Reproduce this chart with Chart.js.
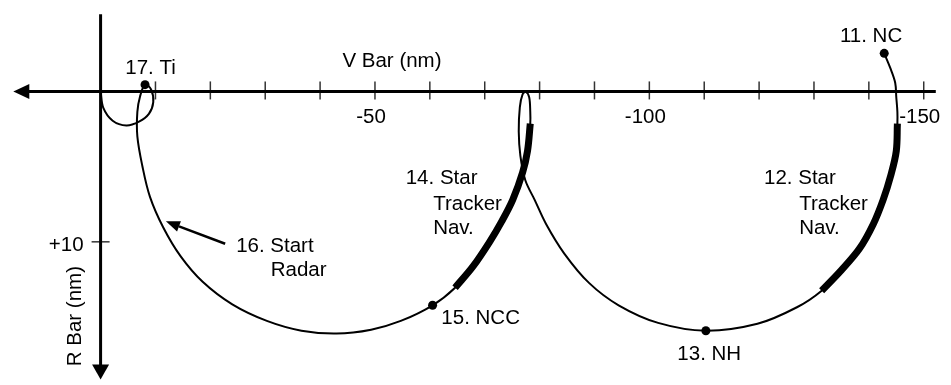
<!DOCTYPE html>
<html><head><meta charset="utf-8">
<script src="https://cdn.jsdelivr.net/npm/chart.js@4"></script>
<style>html,body{margin:0;padding:0;background:#fff;}canvas{display:block;}</style>
</head><body>
<canvas id="c" width="951" height="385"></canvas>
<script>
// Trajectory, V Bar (nm) and R Bar (nm)
const pathV = [-142.8,-143.9,-144.8,-145.0,-145.2,-145.2,-145.0,-144.0,-142.6,-140.8,-138.3,-135.0,-131.4,-126.9,-119.7,-110.3,-101.6,-94.4,-89.0,-84.5,-81.2,-79.1,-77.4,-76.5,-76.2,-76.4,-76.9,-77.5,-78.1,-78.3,-78.3,-77.8,-76.9,-75.1,-73.1,-70.9,-67.9,-64.6,-60.5,-54.7,-49.3,-43.0,-36.6,-30.3,-24.0,-18.6,-14.6,-11.4,-9.0,-7.6,-6.7,-6.7,-7.2,-8.1,-9.2,-9.6,-8.8,-7.0,-4.7,-2.2,-0.5,0];
const pathR = [-2.53,-1.56,-0.58,0.39,1.36,2.14,3.96,5.58,7.21,8.83,10.45,11.88,13.25,14.35,15.45,15.91,15.39,14.22,12.73,10.78,8.83,7.21,5.91,4.29,2.66,1.04,0.19,0.03,0.39,1.36,2.14,3.96,5.39,7.21,8.64,10.0,11.62,13.05,14.22,15.26,15.84,16.10,15.91,15.26,14.16,12.66,10.97,9.03,7.01,4.94,2.99,1.36,0.32,-0.45,-0.13,0.71,1.49,2.01,2.27,1.95,1.10,0];
// Star tracker navigation spans (index ranges into the path)
const trackerSpans = [[5,12],[30,37]];
// Events
const eventNames = ['11. NC','13. NH','15. NCC','17. Ti'];
const eventIdx = [0,15,38,53];
// Axis ticks
const vTicks = [-10,-20,-30,-40,-50,-60,-70,-80,-90,-100,-110,-120,-130,-140,-150];
const vLabelValues = [-50,-100,-150];
const vLabels = ['-50','-100','-150'];
const rTicks = [10];
const rLabels = ['+10'];
const vTitle = 'V Bar (nm)';
const rTitle = 'R Bar (nm)';
// Axis extents (nm)
const vAxisExtent = [15.9,-152.2];
const rAxisExtent = [-5.13,19.16];
// Annotations anchored in data units
const notes = [
  {lines:['11. NC'], v:-140.4, r:-3.31, align:'center'},
  {lines:['17. Ti'], v:-9.1, r:-1.17, align:'center'},
  {lines:['14. Star'], v:-55.6, r:6.17, align:'left'},
  {lines:['Tracker','Nav.'], v:-60.6, r:7.86, align:'left'},
  {lines:['12. Star'], v:-120.9, r:6.17, align:'left'},
  {lines:['Tracker','Nav.'], v:-127.3, r:7.86, align:'left'},
  {lines:['15. NCC'], v:-62.1, r:15.45, align:'left'},
  {lines:['13. NH'], v:-105.1, r:17.84, align:'left'},
  {lines:['16. Start'], v:-24.7, r:10.65, align:'left'},
  {lines:['Radar'], v:-31.0, r:12.27, align:'left'}
];
const radarArrow = {from:[-22.7,10.13], to:[-11.9,8.64]};

const FONT = '20.5px "Liberation Sans", Arial, sans-serif';
const pts = pathV.map((v,i)=>({x:v,y:pathR[i]}));
const trackerSets = trackerSpans.map(([a,b])=>({
  data: pts.slice(a,b+1), showLine:true, borderColor:'#000', borderWidth:7,
  pointRadius:0, tension:0.35, borderCapStyle:'butt', fill:false
}));

const axesPlugin = {
  id:'axes',
  beforeDatasetsDraw(chart){
    const {ctx, scales:{x,y}} = chart;
    const X=v=>x.getPixelForValue(v), Y=r=>y.getPixelForValue(r);
    const x0=X(0), y0=Y(0);
    ctx.save();
    ctx.strokeStyle='#000'; ctx.fillStyle='#000';
    // ticks
    ctx.lineWidth=1.5; ctx.strokeStyle='#333';
    vTicks.forEach(t=>{const px=X(t); ctx.beginPath(); ctx.moveTo(px,y0-10); ctx.lineTo(px,y0+8); ctx.stroke();});
    rTicks.forEach(t=>{const py=Y(t); ctx.beginPath(); ctx.moveTo(x0-9,py); ctx.lineTo(x0+9,py); ctx.stroke();});
    // axis lines
    ctx.strokeStyle='#000'; ctx.lineWidth=3;
    const hl=X(vAxisExtent[0]), hr=X(vAxisExtent[1]);
    ctx.beginPath(); ctx.moveTo(hl+12,y0); ctx.lineTo(hr,y0); ctx.stroke();
    ctx.beginPath(); ctx.moveTo(hl,y0); ctx.lineTo(hl+16,y0-7.5); ctx.lineTo(hl+16,y0+7.5); ctx.closePath(); ctx.fill();
    const vt=Y(rAxisExtent[0]), vb=Y(rAxisExtent[1]);
    ctx.beginPath(); ctx.moveTo(x0,vt); ctx.lineTo(x0,vb-12); ctx.stroke();
    ctx.beginPath(); ctx.moveTo(x0,vb); ctx.lineTo(x0-8.5,vb-15); ctx.lineTo(x0+8.5,vb-15); ctx.closePath(); ctx.fill();
    // tick labels
    ctx.font=FONT; ctx.textBaseline='alphabetic';
    ctx.textAlign='center';
    vLabelValues.forEach((t,i)=>ctx.fillText(vLabels[i], X(t)-4, y0+32));
    ctx.textAlign='right';
    rTicks.forEach((t,i)=>ctx.fillText(rLabels[i], x0-17, Y(t)+9));
    // titles
    ctx.textAlign='center';
    ctx.fillText(vTitle, X(-53.1), Y(-1.62));
    ctx.save(); ctx.translate(X(3.61), Y(14.94)); ctx.rotate(-Math.PI/2);
    ctx.fillText(rTitle, 0, 0); ctx.restore();
    ctx.restore();
  },
  afterDatasetsDraw(chart){
    const {ctx, scales:{x,y}} = chart;
    const X=v=>x.getPixelForValue(v), Y=r=>y.getPixelForValue(r);
    ctx.save();
    ctx.fillStyle='#000'; ctx.strokeStyle='#000';
    ctx.font=FONT; ctx.textBaseline='alphabetic';
    notes.forEach(n=>{
      ctx.textAlign=n.align;
      n.lines.forEach((s,i)=>ctx.fillText(s, X(n.v), Y(n.r)+i*24.5));
    });
    // arrow to the curve
    const ax=X(radarArrow.from[0]), ay=Y(radarArrow.from[1]);
    const bx=X(radarArrow.to[0]), by=Y(radarArrow.to[1]);
    const ang=Math.atan2(by-ay,bx-ax);
    const hx=bx-14*Math.cos(ang), hy=by-14*Math.sin(ang);
    ctx.lineWidth=2.5;
    ctx.beginPath(); ctx.moveTo(ax,ay); ctx.lineTo(hx,hy); ctx.stroke();
    ctx.beginPath(); ctx.moveTo(bx,by);
    ctx.lineTo(hx+5.5*Math.sin(ang), hy-5.5*Math.cos(ang));
    ctx.lineTo(hx-5.5*Math.sin(ang), hy+5.5*Math.cos(ang));
    ctx.closePath(); ctx.fill();
    ctx.restore();
  }
};

new Chart(document.getElementById('c'), {
  type:'scatter',
  data:{datasets:[
    {data: eventIdx.map(i=>pts[i]), pointRadius:4.5, pointBackgroundColor:'#000', pointBorderWidth:0, showLine:false},
    ...trackerSets,
    {data: pts, showLine:true, borderColor:'#000', borderWidth:2, pointRadius:0, tension:0.35, borderJoinStyle:'round', borderCapStyle:'round', fill:false}
  ]},
  options:{
    responsive:false, animation:false, devicePixelRatio:1,
    layout:{padding:0},
    plugins:{legend:{display:false}, tooltip:{enabled:false}},
    events:[],
    scales:{
      x:{type:'linear', min:-154.15, max:17.51, reverse:true, display:false},
      y:{type:'linear', min:-5.779, max:19.22, reverse:true, display:false}
    }
  },
  plugins:[axesPlugin]
});
</script>
</body></html>
